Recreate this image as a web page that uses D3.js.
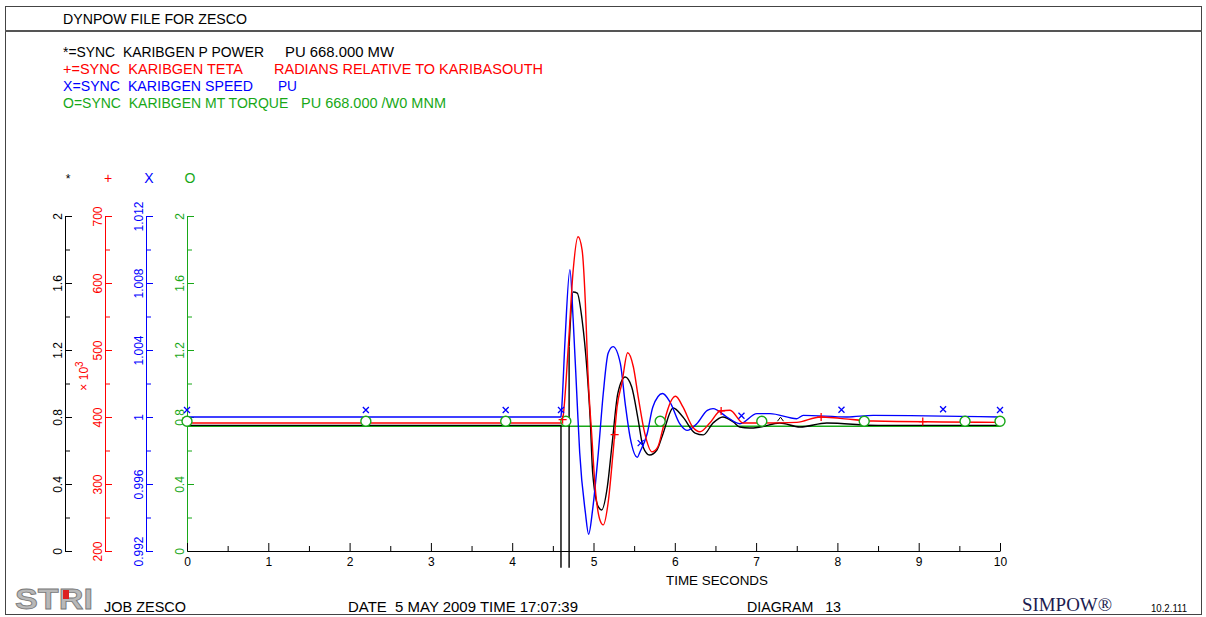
<!DOCTYPE html>
<html>
<head>
<meta charset="utf-8">
<script src="https://cdn.jsdelivr.net/npm/d3@7"></script>
<style>
body { margin: 0; background: #fff; }
svg { display: block; font-family: "Liberation Sans", Arial, sans-serif; }
svg text { white-space: pre; }
</style>
</head>
<body>
<div id="chart"></div>
<script>
// Data (time in seconds); null = pen lifted
const power = [[0,0.75],[4.6,0.75],[4.6,-0.1],[4.65,null],[4.7,-0.1],[4.7,1.22],[4.75,1.546],[4.8,1.54],[4.86,1.379],
  [4.92,1.081],[4.96,0.782],[4.99,0.466],[5.06,0.263],[5.1,0.245],[5.17,0.382],[5.23,0.645],[5.3,0.943],
  [5.39,1.039],[5.47,0.979],[5.55,0.782],[5.61,0.621],[5.69,0.573],[5.78,0.603],[5.85,0.693],[5.98,0.854],
  [6.1,0.8],[6.25,0.704],[6.35,0.693],[6.47,0.764],[6.59,0.8],[6.72,0.77],[6.8,0.74],[6.92,0.734],
  [7.05,0.74],[7.29,0.764],[7.54,0.74],[7.87,0.764],[8.5,0.75],[10,0.75]];
const teta = [[0,391],[4.6,391],[4.62,396],[4.69,505],[4.75,619],[4.81,669],[4.86,649],[4.9,570],
  [4.93,470],[4.98,370],[5.02,296],[5.08,246],[5.12,239],[5.18,272],[5.24,346],[5.29,415],[5.35,451],
  [5.42,496],[5.49,475],[5.55,430],[5.63,376],[5.72,348],[5.79,355],[5.85,381],[5.9,406],[6.01,431],
  [6.1,415],[6.22,385],[6.31,378],[6.43,391],[6.56,409],[6.68,410],[6.84,391],[7.01,391],[7.5,392],
  [7.79,400],[8.03,398],[8.44,394],[10,392]];
const speed = [[0,1.0],[4.6,1.0],[4.61,1.0006],[4.65,1.0046],[4.71,1.0088],[4.75,1.0058],[4.8,1.0008],
  [4.83,0.9979],[4.9,0.9943],[4.94,0.993],[4.99,0.9945],[5.06,0.9979],[5.12,1.0014],[5.18,1.0038],
  [5.24,1.0042],[5.33,1.0032],[5.39,1.0008],[5.45,0.9988],[5.54,0.9976],[5.57,0.9979],[5.66,0.999],
  [5.73,1.0006],[5.85,1.0014],[5.94,1.0009],[6.06,0.9996],[6.15,0.9992],[6.27,0.9996],[6.4,1.0004],
  [6.47,1.0005],[6.64,1.0],[6.8,0.9996],[7.01,1.0002],[7.17,1.0002],[7.5,0.9999],[7.58,1.0001],
  [8.12,1.0],[8.44,1.0001],[10,1.0]];
const torque = [[0,0.745],[10,0.745]];

// marker times
const torqueMarks = [0, 2.2, 3.92, 4.66, 5.82, 7.07, 8.33, 9.57, 10];
const speedMarks = [0, 2.2, 3.92, 4.6, 5.58, 6.82, 8.05, 9.3, 10];
const tetaMarks = [4.62, 5.26, 6.57, 7.8, 9.05];
const powerMarks = [7.3];

// ticks
const timeTicks = [0,1,2,3,4,5,6,7,8,9,10];
const timeMinor = [0.5,1.5,2.5,3.5,4.5,5.5,6.5,7.5,8.5,9.5];
const puTicks = [0,0.4,0.8,1.2,1.6,2];
const puMinor = [0.2,0.6,1.0,1.4,1.8];
const tetaTicks = [200,300,400,500,600,700];
const tetaMinor = [250,350,450,550,650];
const speedTicks = [0.992,0.996,1,1.004,1.008,1.012];
const speedMinor = [0.994,0.998,1.002,1.006,1.01];

const legendLines = [
  ["*=SYNC  KARIBGEN P POWER", "PU 668.000 MW"],
  ["+=SYNC  KARIBGEN TETA", "RADIANS RELATIVE TO KARIBASOUTH"],
  ["X=SYNC  KARIBGEN SPEED", "PU"],
  ["O=SYNC  KARIBGEN MT TORQUE", "PU 668.000 /W0 MNM"]
];

const BLACK = "#000", RED = "#ff0000", BLUE = "#0000ff", GREEN = "#18a818";
const W = 1206, H = 617;
const plotTop = 216, plotBottom = 551;
const faultStart = 4.6;

const svg = d3.select("#chart").append("svg").attr("width", W).attr("height", H);

function label(x0, y0, s, size, width, color) {
  const t = svg.append("text").attr("x", x0).attr("y", y0).attr("font-size", size)
    .attr("fill", color || BLACK).text(s);
  if (width) t.attr("textLength", width).attr("lengthAdjust", "spacingAndGlyphs");
  return t;
}

// frame
svg.append("rect").attr("x", 5.5).attr("y", 6.5).attr("width", 1196).attr("height", 608)
  .attr("fill", "none").attr("stroke", "#444").attr("stroke-width", 1);
svg.append("line").attr("x1", 5).attr("x2", 1202).attr("y1", 31).attr("y2", 31)
  .attr("stroke", "#555").attr("stroke-width", 2);
label(63, 24, "DYNPOW FILE FOR ZESCO", 14, 184);

// legend
const legColors = [BLACK, RED, BLUE, GREEN];
const legW1 = [201, 180, 190, null];
const legX2 = [285, 274, 278, 301];
const legW2 = [109, 269, 19, 145];
legendLines.forEach((l, i) => {
  const y = 57 + i * 17;
  label(63, y, l[0], 14, legW1[i], legColors[i]);
  label(legX2[i], y, l[1], 14, legW2[i], legColors[i]);
});

// scales
const x = d3.scaleLinear().domain([0, 10]).range([187, 1000]);
const yPow = d3.scaleLinear().domain([0, 2]).range([plotBottom, plotTop]);
const yTeta = d3.scaleLinear().domain([200, 700]).range([plotBottom, plotTop]);
const ySpeed = d3.scaleLinear().domain([0.992, 1.012]).range([plotBottom, plotTop]);
const yTorque = d3.scaleLinear().domain([0, 2]).range([plotBottom, plotTop]);

const fmt = d => String(+d.toFixed(3));

function yAxis(px, scale, major, minor, color, sym) {
  const g = svg.append("g").attr("transform", `translate(${px},0)`).attr("color", color);
  g.call(d3.axisRight(scale).tickValues(major).tickSizeInner(7).tickSizeOuter(0).tickFormat(fmt));
  g.selectAll(".tick text")
    .attr("x", null).attr("dy", null)
    .attr("transform", "translate(-3,0) rotate(-90)")
    .attr("text-anchor", "middle")
    .attr("font-size", 12)
    .attr("font-family", "'Liberation Sans', Arial, sans-serif");
  const gm = svg.append("g").attr("transform", `translate(${px},0)`).attr("color", color);
  gm.call(d3.axisRight(scale).tickValues(minor).tickSizeInner(5).tickSizeOuter(0).tickFormat(""));
  gm.select(".domain").remove();
  svg.append("text").attr("x", px + 3).attr("y", 183).attr("text-anchor", "middle")
    .attr("fill", color).attr("font-size", sym === "*" ? 12 : 14).text(sym);
}
yAxis(65, yPow, puTicks, puMinor, BLACK, "*");
yAxis(105, yTeta, tetaTicks, tetaMinor, RED, "+");
yAxis(146, ySpeed, speedTicks, speedMinor, BLUE, "X");
yAxis(187, yTorque, puTicks, puMinor, GREEN, "O");

// red exponent label
svg.append("text").attr("transform", "translate(88,376) rotate(-90)").attr("text-anchor", "middle")
  .attr("fill", RED).attr("font-size", 12).html("× 10<tspan dy='-5' font-size='10'>3</tspan>");

// x axis
const gx = svg.append("g").attr("transform", `translate(0,${plotBottom})`);
gx.call(d3.axisBottom(x).tickValues(timeTicks).tickSizeInner(-8).tickSizeOuter(0).tickPadding(6).tickFormat(d3.format("d")));
gx.selectAll(".tick text").attr("font-size", 12).attr("font-family", "'Liberation Sans', Arial, sans-serif");
const gxm = svg.append("g").attr("transform", `translate(0,${plotBottom})`);
gxm.call(d3.axisBottom(x).tickValues(timeMinor).tickSizeInner(-5).tickSizeOuter(0).tickFormat(""));
gxm.select(".domain").remove();
label(666, 585, "TIME SECONDS", 13, 102);

// curves: steady part straight, swing part smooth
const plot = svg.append("g");
function drawSeries(data, yScale, color, curve) {
  plot.append("path").datum(data)
    .attr("fill", "none").attr("stroke", color).attr("stroke-width", 1.4)
    .attr("d", d3.line().defined(d => d[1] !== null)
      .x(d => x(d[0])).y(d => yScale(d[1])).curve(curve));
}
function drawSplit(data, yScale, color, splitT) {
  const i = data.findIndex(d => d[0] > splitT);
  drawSeries(data.slice(0, i), yScale, color, d3.curveLinear);
  drawSeries(data.slice(i - 1), yScale, color, d3.curveMonotoneX);
}
drawSeries(torque, yTorque, GREEN, d3.curveLinear);
drawSplit(power, yPow, BLACK, 4.7);
drawSplit(speed, ySpeed, BLUE, faultStart);
drawSplit(teta, yTeta, RED, faultStart);

function valueAt(data, t) {
  const pts = data.filter(d => d[1] !== null);
  const i = d3.bisector(d => d[0]).right(pts, t);
  if (i <= 0) return pts[0][1];
  if (i >= pts.length) return pts[pts.length - 1][1];
  const a = pts[i - 1], b = pts[i];
  return a[1] + (b[1] - a[1]) * (t - a[0]) / (b[0] - a[0]);
}

// markers
torqueMarks.forEach(t => {
  plot.append("circle").attr("cx", x(t)).attr("cy", yTorque(valueAt(torque, t)) - 5).attr("r", 5)
    .attr("fill", "#fff").attr("stroke", GREEN).attr("stroke-width", 1.4);
});
speedMarks.forEach(t => {
  const cx = x(t), cy = ySpeed(valueAt(speed, t)) - 7;
  plot.append("path").attr("d", `M${cx-3},${cy-3}L${cx+3},${cy+3}M${cx+3},${cy-3}L${cx-3},${cy+3}`)
    .attr("stroke", BLUE).attr("stroke-width", 1.3);
});
tetaMarks.forEach(t => {
  const cx = x(t), cy = yTeta(valueAt(teta, t));
  plot.append("path").attr("d", `M${cx-4},${cy}H${cx+4}M${cx},${cy-4}V${cy+4}`)
    .attr("stroke", RED).attr("stroke-width", 1.3);
});
powerMarks.forEach(t => {
  const cx = x(t), cy = yPow(valueAt(power, t)) - 4;
  plot.append("path").attr("d", `M${cx-3},${cy+2}L${cx},${cy-2}L${cx+3},${cy+2}`)
    .attr("fill", "none").attr("stroke", BLACK).attr("stroke-width", 1);
});

// footer
const logo = svg.append("g");
logo.append("text").attr("x", 15).attr("y", 609).attr("font-size", 30).attr("font-weight", "bold")
  .attr("textLength", 78).attr("lengthAdjust", "spacingAndGlyphs")
  .attr("fill", "#b8b8b8").attr("stroke", "#777").attr("stroke-width", 0.8).text("STRI");
logo.append("rect").attr("x", 63).attr("y", 590).attr("width", 6).attr("height", 9).attr("fill", "#d22");
label(104, 612, "JOB ZESCO", 14, 82);
label(348, 612, "DATE  5 MAY 2009 TIME 17:07:39", 14, 230);
label(747, 612, "DIAGRAM   13", 14, 94);
svg.append("text").attr("x", 1022).attr("y", 611).attr("font-size", 18)
  .attr("textLength", 90).attr("lengthAdjust", "spacingAndGlyphs")
  .attr("font-family", "'Liberation Serif', 'Times New Roman', serif").attr("fill", "#1c1c50").text("SIMPOW®");
label(1151, 612, "10.2.111", 10, 36);
</script>
</body>
</html>
